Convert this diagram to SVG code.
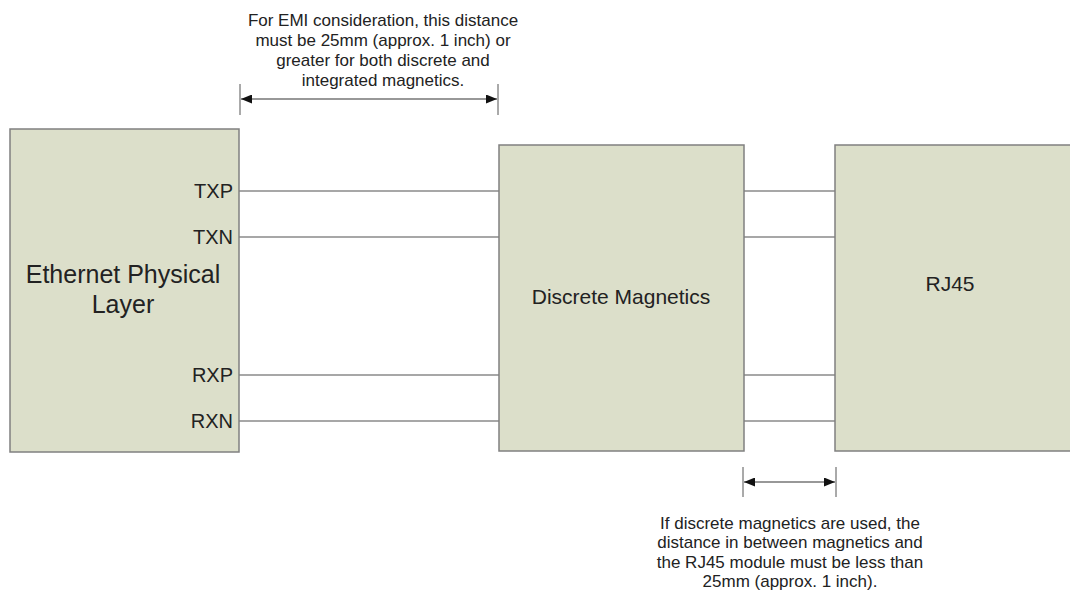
<svg xmlns="http://www.w3.org/2000/svg" width="1070" height="593" viewBox="0 0 1070 593">
<defs>
<style>
.box{fill:#dcdfca;stroke:#808080;stroke-width:1.5}
.wire{stroke:#8a8a8a;stroke-width:1.5;fill:none}
.dim{stroke:#333;stroke-width:1.2;fill:none}
.tick{stroke:#555;stroke-width:1;fill:none}
text{font-family:"Liberation Sans",Arial,sans-serif;fill:#222}
.pin{font-size:20px;text-anchor:end}
.note{font-size:17px;text-anchor:middle}
</style>
<marker id="ah" viewBox="0 0 10 10" refX="10" refY="5" markerWidth="11" markerHeight="9" orient="auto-start-reverse" markerUnits="userSpaceOnUse" preserveAspectRatio="none">
<path d="M0,0 L10,5 L0,10 z" fill="#111"/>
</marker>
</defs>
<rect width="1070" height="593" fill="#fff"/>
<g id="connectors">
<line class="wire" x1="239" y1="191" x2="499" y2="191"/>
<line class="wire" x1="239" y1="237" x2="499" y2="237"/>
<line class="wire" x1="239" y1="375" x2="499" y2="375"/>
<line class="wire" x1="239" y1="421" x2="499" y2="421"/>
<line class="wire" x1="744" y1="191" x2="835" y2="191"/>
<line class="wire" x1="744" y1="237" x2="835" y2="237"/>
<line class="wire" x1="744" y1="375" x2="835" y2="375"/>
<line class="wire" x1="744" y1="421" x2="835" y2="421"/>
</g>
<g id="phy">
<rect class="box" x="10" y="129" width="229" height="323"/>
<text x="123" y="283" font-size="25" text-anchor="middle">Ethernet Physical</text>
<text x="123" y="313" font-size="25" text-anchor="middle">Layer</text>
<text class="pin" x="233" y="198">TXP</text>
<text class="pin" x="233" y="244">TXN</text>
<text class="pin" x="233" y="382">RXP</text>
<text class="pin" x="233" y="428">RXN</text>
</g>
<g id="magnetics">
<rect class="box" x="499" y="145" width="245" height="306"/>
<text x="621" y="304" font-size="21" text-anchor="middle">Discrete Magnetics</text>
</g>
<g id="rj45">
<rect class="box" x="835" y="145" width="240" height="306"/>
<text x="950" y="291" font-size="21" text-anchor="middle">RJ45</text>
</g>
<g id="dim-top">
<line class="tick" x1="240" y1="84" x2="240" y2="115"/>
<line class="tick" x1="498" y1="84" x2="498" y2="115"/>
<line class="dim" x1="241" y1="99" x2="497" y2="99" marker-start="url(#ah)" marker-end="url(#ah)"/>
<text class="note" x="383" y="26">For EMI consideration, this distance</text>
<text class="note" x="383" y="46">must be 25mm (approx. 1 inch) or</text>
<text class="note" x="383" y="66">greater for both discrete and</text>
<text class="note" x="383" y="86">integrated magnetics.</text>
</g>
<g id="dim-bottom">
<line class="tick" x1="743" y1="467" x2="743" y2="497"/>
<line class="tick" x1="836" y1="467" x2="836" y2="497"/>
<line class="dim" x1="744" y1="482" x2="835" y2="482" marker-start="url(#ah)" marker-end="url(#ah)"/>
<text class="note" x="790" y="529">If discrete magnetics are used, the</text>
<text class="note" x="790" y="548">distance in between magnetics and</text>
<text class="note" x="790" y="568">the RJ45 module must be less than</text>
<text class="note" x="790" y="587">25mm (approx. 1 inch).</text>
</g>
</svg>
